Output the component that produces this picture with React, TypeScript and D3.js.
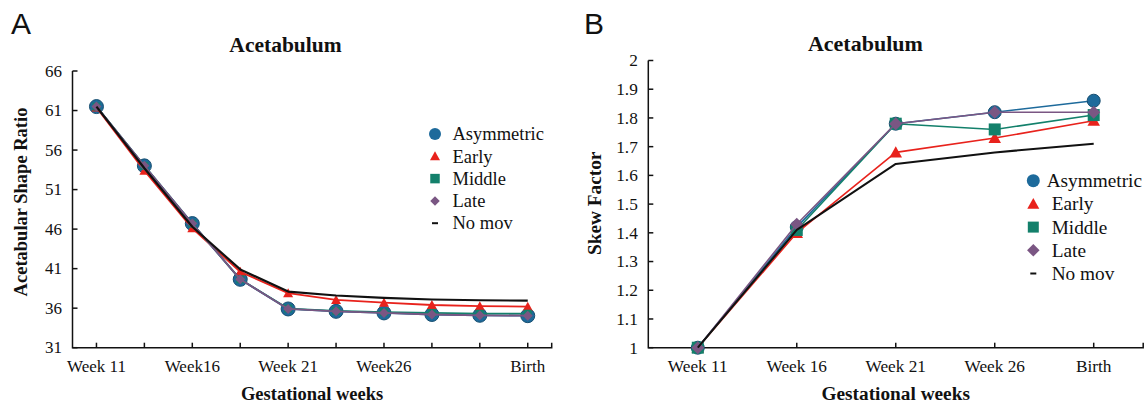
import React from "react";
import * as d3 from "d3";

// ---------- data ----------
const seriesNames = ["Asymmetric", "Early", "Middle", "Late", "No mov"];
const seriesColors = ["#1d6a9b", "#e8221c", "#13806b", "#7a5683", "#111111"];
const markerShapes = ["circle", "triangle", "square", "diamond", "none"];

// Panel A (10 time points)
const xLabelsA = ["Week 11", "", "Week16", "", "Week 21", "", "Week26", "", "", "Birth"];
const asymmetricA = [61.5, 54.0, 46.7, 39.65, 35.9, 35.6, 35.4, 35.2, 35.1, 35.05];
const earlyA = [61.4, 53.4, 46.1, 40.6, 37.9, 37.05, 36.7, 36.4, 36.25, 36.2];
const middleA = [61.5, 54.0, 46.7, 39.65, 35.95, 35.65, 35.5, 35.4, 35.3, 35.3];
const lateA = [61.5, 54.0, 46.7, 39.65, 35.9, 35.6, 35.4, 35.2, 35.1, 35.05];
const noMovA = [61.5, 53.7, 46.3, 40.9, 38.1, 37.6, 37.3, 37.1, 37.0, 36.95];
const yTicksA = [31, 36, 41, 46, 51, 56, 61, 66];

// Panel B (5 time points)
const xLabelsB = ["Week 11", "Week 16", "Week 21", "Week 26", "Birth"];
const asymmetricB = [1.0, 1.42, 1.78, 1.82, 1.86];
const earlyB = [1.0, 1.4, 1.68, 1.73, 1.79];
const middleB = [1.0, 1.41, 1.78, 1.76, 1.81];
const lateB = [1.0, 1.43, 1.78, 1.82, 1.82];
const noMovB = [1.0, 1.41, 1.64, 1.68, 1.71];
const yTicksB = [1, 1.1, 1.2, 1.3, 1.4, 1.5, 1.6, 1.7, 1.8, 1.9, 2];

const SERIF = "'Liberation Serif', 'Times New Roman', serif";
const SANS = "'Liberation Sans', Arial, sans-serif";

type Sizes = { circle: number; triangle: number; square: number; diamond: number };

function markerPath(shape: string, s: Sizes): string {
  if (shape === "circle") return d3.symbol(d3.symbolCircle, Math.PI * s.circle * s.circle)() as string;
  if (shape === "triangle") {
    const w = s.triangle / 2;
    const h = s.triangle * 0.9;
    return `M0,${-h * 0.55}L${w},${h * 0.45}L${-w},${h * 0.45}Z`;
  }
  if (shape === "square") {
    const h = s.square / 2;
    return `M${-h},${-h}H${h}V${h}H${-h}Z`;
  }
  if (shape === "diamond") {
    const h = s.diamond / 2;
    return `M0,${-h}L${h},0L0,${h}L${-h},0Z`;
  }
  return "";
}

type PanelProps = {
  letter: string;
  letterX: number;
  series: number[][];
  xLabels: string[];
  yTicks: number[];
  yFmt: (v: number) => string;
  yDomain: [number, number];
  axisX0: number;
  axisX1: number;
  axisYTop: number;
  axisYBottom: number;
  title: string;
  titleX: number;
  titleY: number;
  titleSize: number;
  yTitle: string;
  yTitleX: number;
  yTitleY: number;
  xTitleY: number;
  labelSize: number;
  axisTitleSize: number;
  legendX: number;
  legendTextX: number[];
  legendY0: number;
  legendStep: number;
  legendSize: number;
  plotMarkers: Sizes;
  legendMarkers: Sizes;
  lineW: number;
};

function Panel(p: PanelProps) {
  const n = p.xLabels.length;
  const step = (p.axisX1 - p.axisX0) / n;
  const x = d3
    .scalePoint<number>()
    .domain(d3.range(n))
    .range([p.axisX0 + step / 2, p.axisX1 - step / 2]);
  const y = d3.scaleLinear().domain(p.yDomain).range([p.axisYBottom, p.axisYTop]);
  const line = d3
    .line<number>()
    .x((_, i) => x(i) as number)
    .y((d) => y(d));
  const tick = 5;

  return (
    <g>
      <text x={p.letterX} y={34.3} fontFamily={SANS} fontSize={30} fill="#111">
        {p.letter}
      </text>
      <text x={p.titleX} y={p.titleY} textAnchor="middle" fontFamily={SERIF} fontWeight="bold" fontSize={p.titleSize} fill="#111">
        {p.title}
      </text>

      {/* axes */}
      <g stroke="#111" strokeWidth={1.5} fill="none">
        <path d={`M${p.axisX0},${p.axisYTop}V${p.axisYBottom}H${p.axisX1}V${p.axisYBottom - tick}`} />
        {p.yTicks.map((t) => (
          <line key={"yt" + t} x1={p.axisX0} x2={p.axisX0 + tick} y1={y(t)} y2={y(t)} />
        ))}
        {d3.range(n).map((i) => (
          <line key={"xt" + i} x1={x(i)} x2={x(i)} y1={p.axisYBottom} y2={p.axisYBottom - tick} />
        ))}
      </g>
      <g fontFamily={SERIF} fontSize={p.labelSize} fill="#111">
        {p.yTicks.map((t) => (
          <text key={"yl" + t} x={p.axisX0 - 10.5} y={y(t)} dy="0.34em" textAnchor="end">
            {p.yFmt(t)}
          </text>
        ))}
        {p.xLabels.map((l, i) =>
          l ? (
            <text key={"xl" + i} x={x(i)} y={371.5} textAnchor="middle">
              {l}
            </text>
          ) : null
        )}
      </g>
      <text
        x={(p.axisX0 + p.axisX1) / 2}
        y={p.xTitleY}
        textAnchor="middle"
        fontFamily={SERIF}
        fontWeight="bold"
        fontSize={p.axisTitleSize}
        fill="#111"
      >
        Gestational weeks
      </text>
      <text
        transform={`translate(${p.yTitleX},${p.yTitleY}) rotate(-90)`}
        textAnchor="middle"
        fontFamily={SERIF}
        fontWeight="bold"
        fontSize={p.axisTitleSize}
        fill="#111"
      >
        {p.yTitle}
      </text>

      {/* series: line then markers, in series order */}
      {p.series.map((vals, si) => (
        <g key={"s" + si}>
          <path
            d={line(vals) as string}
            fill="none"
            stroke={seriesColors[si]}
            strokeWidth={si === 4 ? p.lineW + 0.4 : p.lineW}
            strokeLinejoin="round"
          />
          {markerShapes[si] !== "none" &&
            vals.map((v, i) => (
              <path
                key={i}
                d={markerPath(markerShapes[si], p.plotMarkers)}
                transform={`translate(${x(i)},${y(v)})`}
                fill={seriesColors[si]}
                stroke={si === 0 ? "#174e70" : "none"}
                strokeWidth={si === 0 ? 1 : 0}
              />
            ))}
        </g>
      ))}

      {/* legend */}
      <g>
        {seriesNames.map((name, si) => {
          const ly = p.legendY0 + si * p.legendStep;
          return (
            <g key={"lg" + si}>
              {markerShapes[si] === "none" ? (
                <line x1={p.legendX - 3} x2={p.legendX + 3} y1={ly} y2={ly} stroke="#111" strokeWidth={2} />
              ) : (
                <path d={markerPath(markerShapes[si], p.legendMarkers)} transform={`translate(${p.legendX},${ly})`} fill={seriesColors[si]} />
              )}
              <text x={p.legendTextX[si]} y={ly} dy="0.34em" fontFamily={SERIF} fontSize={p.legendSize} fill="#111">
                {name}
              </text>
            </g>
          );
        })}
      </g>
    </g>
  );
}

export default function App() {
  return (
    <div style={{ position: "absolute", left: 0, top: 0, width: 1146, height: 408, background: "#fff" }}>
      <svg width={1146} height={408} viewBox="0 0 1146 408" style={{ display: "block" }}>
        <rect width={1146} height={408} fill="#fff" />
        <Panel
          letter="A"
          letterX={11}
          series={[asymmetricA, earlyA, middleA, lateA, noMovA]}
          xLabels={xLabelsA}
          yTicks={yTicksA}
          yFmt={(v) => String(v)}
          yDomain={[31, 66]}
          axisX0={72.5}
          axisX1={551.7}
          axisYTop={71}
          axisYBottom={347.7}
          title="Acetabulum"
          titleX={285.5}
          titleY={51.7}
          titleSize={21.5}
          yTitle="Acetabular Shape Ratio"
          yTitleX={26.5}
          yTitleY={202}
          xTitleY={399.5}
          labelSize={17}
          axisTitleSize={18.5}
          legendX={435}
          legendTextX={[452.5, 452.5, 452.5, 452.5, 452.5]}
          legendY0={134}
          legendStep={22.3}
          legendSize={18.5}
          plotMarkers={{ circle: 7, triangle: 10, square: 8, diamond: 10 }}
          legendMarkers={{ circle: 6, triangle: 10, square: 9.5, diamond: 9.5 }}
          lineW={1.8}
        />
        <Panel
          letter="B"
          letterX={584}
          series={[asymmetricB, earlyB, middleB, lateB, noMovB]}
          xLabels={xLabelsB}
          yTicks={yTicksB}
          yFmt={(v) => d3.format("~g")(v)}
          yDomain={[1, 2]}
          axisX0={648.3}
          axisX1={1143.2}
          axisYTop={60.5}
          axisYBottom={347.7}
          title="Acetabulum"
          titleX={865.4}
          titleY={50.7}
          titleSize={22}
          yTitle="Skew Factor"
          yTitleX={601}
          yTitleY={203.3}
          xTitleY={400}
          labelSize={17.3}
          axisTitleSize={19.3}
          legendX={1033.3}
          legendTextX={[1046.7, 1051.7, 1051.7, 1051.7, 1051.7]}
          legendY0={180.7}
          legendStep={23.2}
          legendSize={19.3}
          plotMarkers={{ circle: 6.5, triangle: 12.5, square: 12, diamond: 13 }}
          legendMarkers={{ circle: 6.5, triangle: 12, square: 11, diamond: 12.5 }}
          lineW={1.6}
        />
      </svg>
    </div>
  );
}
